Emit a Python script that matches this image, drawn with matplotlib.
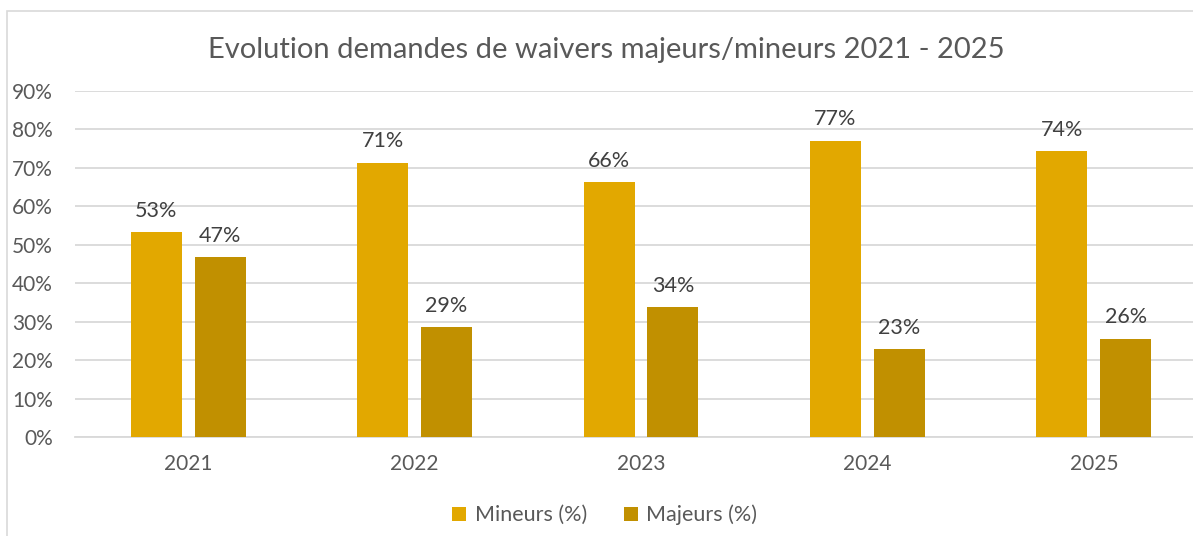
import matplotlib.pyplot as plt
import matplotlib.patches as mpatches
import numpy as np

years = ['2021', '2022', '2023', '2024', '2025']
mineurs = [53.2, 71.4, 66.3, 77.1, 74.4]
majeurs = [46.8, 28.6, 33.7, 22.9, 25.6]

col_min = '#E2A800'
col_maj = '#C19000'
grey = '#595959'

plt.rcParams['font.family'] = ['Lato', 'DejaVu Sans']

fig = plt.figure(figsize=(11.93, 5.36), dpi=100)
ax = fig.add_axes([75 / 1193, (536 - 437) / 536, 1132 / 1193, (437 - 91) / 536])

# chart frame
fig.patches.append(mpatches.Rectangle((7 / 1193, -0.01), 1.0, 1 - 11 / 536 + 0.01,
                                      transform=fig.transFigure, fill=False,
                                      edgecolor='#D9D9D9', linewidth=1.2))

x = np.arange(len(years))
w = 0.225
off = 0.141
b1 = ax.bar(x - off, mineurs, w, color=col_min, label='Mineurs (%)', zorder=3)
b2 = ax.bar(x + off, majeurs, w, color=col_maj, label='Majeurs (%)', zorder=3)

for bars, vals in ((b1, mineurs), (b2, majeurs)):
    for r, v in zip(bars, vals):
        ax.annotate(f'{round(v)}%', (r.get_x() + r.get_width() / 2, v),
                    xytext=(0, 8), textcoords='offset points',
                    ha='center', va='bottom', fontsize=15.5, color='#404040')

ax.set_xlim(-0.5, 4.5)
ax.set_ylim(0, 90)
ax.set_yticks(range(0, 91, 10))
ax.set_yticklabels([f'{t}%' for t in range(0, 91, 10)])
ax.set_xticks(x)
ax.set_xticklabels(years)
ax.tick_params(axis='both', length=0, labelsize=15, labelcolor=grey)
ax.tick_params(axis='x', pad=12)
ax.tick_params(axis='y', pad=16)

ax.grid(axis='y', color='#D9D9D9', linewidth=1.3, zorder=0)
for s in ['top', 'right', 'left']:
    ax.spines[s].set_visible(False)
ax.spines['bottom'].set_color('#D9D9D9')
ax.spines['bottom'].set_linewidth(1.3)

fig.text(0.508, 1 - 50 / 536, 'Evolution demandes de waivers majeurs/mineurs 2021 - 2025',
         ha='center', va='center', fontsize=21, color=grey)

fig.legend(handles=[b1, b2], loc='center', bbox_to_anchor=(0.507, 1 - 515 / 536),
           ncol=2, frameon=False, fontsize=15.5, labelcolor=grey,
           handlelength=0.65, handleheight=0.65, handletextpad=0.4, columnspacing=1.7)

fig.savefig('out.png', dpi=100)
